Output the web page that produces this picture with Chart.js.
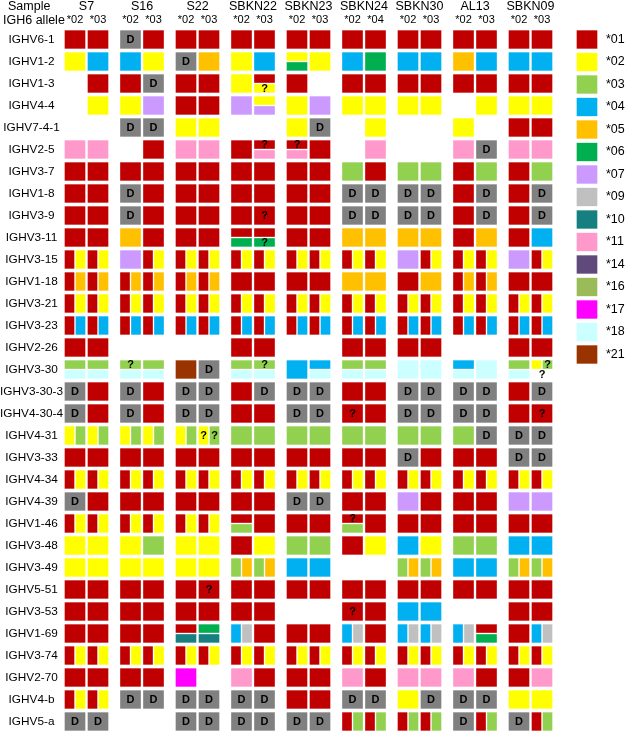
<!DOCTYPE html>
<html><head><meta charset="utf-8">
<script src="https://cdn.jsdelivr.net/npm/chart.js@4/dist/chart.umd.min.js"></script>
<style>html,body{margin:0;padding:0;background:#fff;overflow:hidden}canvas{display:block}</style>
</head><body>
<canvas id="c" width="637" height="733"></canvas>
<script>
// ---------------- DATA ----------------
const samples = ["S7","S16","S22","SBKN22","SBKN23","SBKN24","SBKN30","AL13","SBKN09"];
const ighdAlleles = [["*02","*03"],["*02","*03"],["*02","*03"],["*02","*03"],["*02","*03"],["*02","*04"],["*02","*03"],["*02","*03"],["*02","*03"]];
const genes = ["IGHV6-1","IGHV1-2","IGHV1-3","IGHV4-4","IGHV7-4-1","IGHV2-5","IGHV3-7","IGHV1-8","IGHV3-9","IGHV3-11","IGHV3-15","IGHV1-18","IGHV3-21","IGHV3-23","IGHV2-26","IGHV3-30","IGHV3-30-3","IGHV4-30-4","IGHV4-31","IGHV3-33","IGHV4-34","IGHV4-39","IGHV1-46","IGHV3-48","IGHV3-49","IGHV5-51","IGHV3-53","IGHV1-69","IGHV3-74","IGHV2-70","IGHV4-b","IGHV5-a"];
// codes: "a|b" left/right split, "a/b" top/bottom split, "D" deletion, "?" uncertain, "" none
const genotypes = [
["01","01","D","01","01","01","01","01","01","01","01","01","01","01","01","01","01","01"],
["02","04","04","02","D","05","02","04","02/06","02","04","06","04","04","05","04","04","04"],
["","01","01","D","01","01","02","01/02?","01","","01","01","01","01","01","01","01","01"],
["","02","02","07","01","01","07","02/07","02","07","02","02","02","02","","02","02","02"],
["","","D","D","02","02","","","02","D","","02","","","02","","01","01"],
["11","11","","01","11","11","01","01?/11","01?/11","01","","11","","","11","D","11","11"],
["01","01","01","01","01","01","01","01","01","01","03","01","03","03","01","03","01","03"],
["01","01","D","01","01","01","01","01","01","01","D","D","D","D","01","D","01","D"],
["01","01","D","01","01","01","01","01?","01","01","D","D","D","D","01","D","01","D"],
["01","01","05","01","01","01","01/06","01/06?","01","01","05","05","05","05","01","05","01","04"],
["01|02","01|02","07","01|02","01|02","01|02","01|02","01|02","01|02","01|02","01|02","01|02","07","01|02","01|02","01|02","07","01|02"],
["01|05","01|05","01|05","01|05","01|05","01|05","01","01","01","01","05","05","01","05","01|05","01|05","01","01"],
["01|02","01|02","01|02","01|02","01|02","01|02","01|02","01|02","01|02","01|02","01|02","01|02","01|02","01|02","01|02","01|02","01|02","01|02"],
["01|04","01|04","01|04","01|04","01|04","01|04","01|04","01|04","01|04","01|04","01|04","01|04","01|04","01|04","01|04","01|04","01|04","01|04"],
["01","01","","","","","01","01","","","01","01","01","01","","","01","01"],
["03/18","03/18","03?/18","03/18","21","D","03/18","03?/18","04","04/18","03/18","03/18","18","18","04/18","18","03/18","02|03?/-?"],
["D","01","D","01","D","D","01","D","D","D","01","01","D","D","D","D","01","D"],
["D","01","D","01","D","D","01","01","D","D","01?","01","D","D","D","D","01","01?"],
["02|03","02|03","02|03","02|03","02|03","02?|03?","03","03","03","03","03","03","03","03","03","D","D","D"],
["01","01","01","01","01","01","01","01","01","01","01","01","D","01","01","01","D","D"],
["01|02","01|02","01|02","01|02","01|02","01|02","01|02","01|02","01|02","01|02","01|02","01|02","01|02","01|02","01|02","01|02","01|02","01|02"],
["D","01","01","01","01","01","01","01","D","D","01","01","07","01","01","01","07","07"],
["01|02","01|02","01|02","01|02","01|02","01|02","01/03","01","01","01","01?/03","01","01","01","01","01","01","01"],
["02","02","02","03","02","02","01","02","03","03","01","02","04","02","03","03","04","04"],
["02","02","02","02","02","02","03|05","03|05","04","04","","","03|05","03|05","04","04","03|05","03|05"],
["01","01","01","01","01","01?","01","01","01","01","01","01","01","01","01","01","01","01"],
["01","01","01","01","01","01","01","01","","","01?","01","04","04","","","01","01"],
["01","01","01","01","01/10","06/10","04|09","01","01","01","04|09","01","04|09","04|09","04|09","01/06","01","04|09"],
["01|02","01|02","01|02","01|02","01|02","01|02","01|02","01|02","01|02","01|02","01|02","01|02","01|02","01|02","01|02","01|02","01|02","01|02"],
["01","01","01","01","17","","11","01","01","01","11","01","11","11","11","01","01","11"],
["01|02","01|02","D","D","D","D","D","D","01","01","D","D","02","D","D","D","02","02"],
["D","D","","","D","D","D","D","D","D","01|03","01|03","01|03","01|03","D","01|03","D","01|03"]
];
const legendAlleles = ["*01","*02","*03","*04","*05","*06","*07","*09","*10","*11","*14","*16","*17","*18","*21"];

// ---------------- STYLE / LAYOUT ----------------
const palette = {"01":"#C00000","02":"#FFFF00","03":"#92D050","04":"#00B0F0","05":"#FFC000","06":"#00B050","07":"#CC99FF","09":"#C0C0C0","10":"#168080","11":"#FF99CC","14":"#604A7B","16":"#9BBB59","17":"#FF00FF","18":"#CCFFFF","21":"#993300","D":"#808080"};
const FONT = "Arial, 'Liberation Sans', Helvetica, sans-serif";
const GROUP_PX = 55.5, ROW_PX = 22, LEG_ROW_PX = 22.5;
const ALLELE_STEP = 23 / GROUP_PX;
const HALF_OFFSET = 5.5 / GROUP_PX;
const CELL_HALF_H = 8.85 / ROW_PX;
const SPLIT_GAP = 1 / ROW_PX;
const LEGEND_X = (587 - 75) / GROUP_PX;
const X_MIN = (63 - 75) / GROUP_PX, X_MAX = X_MIN + 539 / GROUP_PX;
const Y_MIN = (28 - 39.5) / ROW_PX, Y_MAX = Y_MIN + 705 / ROW_PX;
const YL_MIN = (28 - 39.5) / LEG_ROW_PX, YL_MAX = YL_MIN + 705 / LEG_ROW_PX;

Chart.defaults.font.family = FONT;
Chart.defaults.color = '#000';

// ---------------- BUILD ----------------
const dsMap = {};
const marks = [];
function addSeg(code, wide, x, y0, y1) {
  const key = code + (wide ? 'F' : 'H');
  if (!dsMap[key]) dsMap[key] = {type:'bar', data:[], backgroundColor: palette[code], barThickness: wide ? 20 : 9,
    grouped:false, borderWidth:0, xAxisID:'x', yAxisID:'y'};
  dsMap[key].data.push({x:x, y:[y0, y1]});
}
genotypes.forEach((row, r) => row.forEach((code, k) => {
  if (!code) return;
  const cx = Math.floor(k / 2) + (k % 2) * ALLELE_STEP;
  const halves = code.split('/');
  halves.forEach((half, hi) => {
    let y0, y1;
    if (halves.length === 1) { y0 = r - CELL_HALF_H; y1 = r + CELL_HALF_H; }
    else if (hi === 0) { y0 = r - CELL_HALF_H; y1 = r - SPLIT_GAP; }
    else { y0 = r + SPLIT_GAP; y1 = r + CELL_HALF_H; }
    const parts = half.split('|');
    parts.forEach((p, pi) => {
      let x = cx, wide = true;
      if (parts.length === 2) { x = cx + (pi === 0 ? -HALF_OFFSET : HALF_OFFSET); wide = false; }
      const q = p.endsWith('?');
      const c = q ? p.slice(0, -1) : p;
      if (c && c !== '-') addSeg(c, wide, x, y0, y1);
      if (c === 'D') marks.push({x:x, y:(y0 + y1) / 2, t:'D'});
      else if (q) marks.push({x:x, y:(y0 + y1) / 2, t:'?'});
    });
  });
}));
const datasets = Object.values(dsMap);
datasets.push({type:'bar', data: legendAlleles.map((a, i) => ({x: LEGEND_X, y:[i - 8.85 / LEG_ROW_PX, i + 8.85 / LEG_ROW_PX]})),
  backgroundColor: legendAlleles.map(a => palette[a.slice(1)]), barThickness:20, grouped:false, borderWidth:0, xAxisID:'x', yAxisID:'yLeg'});

const colValues = [], colLabels = [];
ighdAlleles.forEach((pair, g) => pair.forEach((a, j) => { colValues.push(g + j * ALLELE_STEP); colLabels.push(a); }));

const textPlugin = {
  id:'cellText',
  afterDatasetsDraw(chart) {
    const ctx = chart.ctx, xs = chart.scales.x, ys = chart.scales.y;
    ctx.save();
    ctx.font = "bold 11px " + FONT;
    ctx.textAlign = 'center'; ctx.textBaseline = 'middle'; ctx.fillStyle = '#000';
    marks.forEach(m => ctx.fillText(m.t, xs.getPixelForValue(m.x), ys.getPixelForValue(m.y) + 0.5));
    ctx.font = "12.5px " + FONT; ctx.textAlign = 'left';
    ctx.fillText("Sample", 8, 7);
    ctx.fillText("IGH6 allele", 3, 21);
    ctx.restore();
  }
};

function fixBox(prop, size) {
  return s => { s[prop] = size; s.paddingTop = 0; s.paddingBottom = 0; s.paddingLeft = 0; s.paddingRight = 0; };
}
const noGrid = {display:false, drawTicks:false};
new Chart(document.getElementById('c'), {
  type:'bar',
  data:{datasets},
  options:{
    responsive:false, animation:false, events:[],
    layout:{padding:0, autoPadding:false},
    plugins:{legend:{display:false}, tooltip:{enabled:false}},
    scales:{
      x:{type:'linear', position:'top', weight:0, min:X_MIN, max:X_MAX, offset:false, grid:noGrid, border:{display:false},
        ticks:{autoSkip:false, maxRotation:0, minRotation:0, padding:1.4, font:{size:11}, color:'#000', callback:(v, i) => colLabels[i]},
        afterBuildTicks:s => { s.ticks = colValues.map(v => ({value:v})); },
        afterFit:fixBox('height', 13.5)},
      xs:{type:'linear', position:'top', weight:1, min:X_MIN, max:X_MAX, offset:false, grid:noGrid, border:{display:false},
        ticks:{autoSkip:false, maxRotation:0, minRotation:0, padding:0, font:{size:12.5}, color:'#000', callback:(v, i) => samples[i]},
        afterBuildTicks:s => { s.ticks = samples.map((n, g) => ({value: g + ALLELE_STEP / 2})); },
        afterFit:fixBox('height', 14.5)},
      y:{type:'linear', position:'left', reverse:true, min:Y_MIN, max:Y_MAX, grid:noGrid, border:{display:false},
        ticks:{autoSkip:false, padding:0, crossAlign:'center', font:{size:11.8}, color:'#000', callback:(v, i) => genes[i]},
        afterBuildTicks:s => { s.ticks = genes.map((n, i) => ({value:i})); },
        afterFit:fixBox('width', 63)},
      yLeg:{type:'linear', position:'right', reverse:true, min:YL_MIN, max:YL_MAX, grid:noGrid, border:{display:false},
        ticks:{autoSkip:false, padding:4, font:{size:12.5}, color:'#000', callback:(v, i) => legendAlleles[i]},
        afterBuildTicks:s => { s.ticks = legendAlleles.map((n, i) => ({value:i})); },
        afterFit:fixBox('width', 35)}
    }
  },
  plugins:[textPlugin]
});
</script>
</body></html>
